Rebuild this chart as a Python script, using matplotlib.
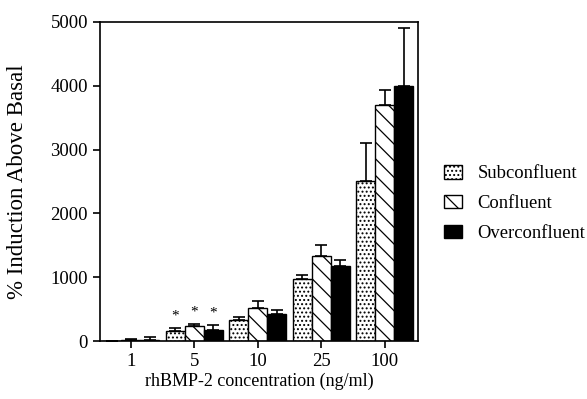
import matplotlib
matplotlib.use("Agg")
import matplotlib.pyplot as plt
import numpy as np

concentrations = ["1", "5", "10", "25", "100"]
series_names = ["Subconfluent", "Confluent", "Overconfluent"]
subconfluent = [0, 165, 330, 980, 2510]
confluent = [15, 230, 525, 1330, 3700]
overconfluent = [25, 180, 430, 1180, 4000]
sub_err = [0, 45, 50, 50, 590]
conf_err = [15, 45, 100, 170, 240]
over_err = [40, 75, 65, 90, 900]
significant = ["5"]
yticks = [0, 1000, 2000, 3000, 4000, 5000]

plt.rcParams["font.family"] = ["Liberation Serif", "DejaVu Serif"]
plt.rcParams["hatch.linewidth"] = 0.9
plt.rcParams["axes.linewidth"] = 1.2

fig = plt.figure(figsize=(5.87, 3.99), dpi=100)
ax = fig.add_axes([0.170, 0.145, 0.542, 0.800])

x = np.arange(len(concentrations))
w = 0.30
vals = [subconfluent, confluent, overconfluent]
errs = [sub_err, conf_err, over_err]
styles = [dict(facecolor="white", hatch="...."),
          dict(facecolor="white", hatch="\\\\"),
          dict(facecolor="black", hatch=None)]
handles = []
for i, (v, e, st) in enumerate(zip(vals, errs, styles)):
    pos = x + (i - 1) * w
    b = ax.bar(pos, v, width=w, edgecolor="black", linewidth=1.0, label=series_names[i], **st)
    handles.append(b)
    ax.errorbar(pos, v, yerr=[np.zeros(len(v)), e], fmt="none", ecolor="black",
                elinewidth=1.2, capsize=4.5, capthick=1.2)
    for j, c in enumerate(concentrations):
        if c in significant:
            ax.text(pos[j], v[j] + e[j] + 180, "*", ha="center", va="center", fontsize=11)

ax.set_xlim(-0.49, 4.52)
ax.set_ylim(0, 5000)
ax.set_xticks(x)
ax.set_xticklabels(concentrations)
ax.set_yticks(yticks)
ax.tick_params(axis="both", direction="out", length=5, width=1.2, labelsize=13.5)
ax.tick_params(top=False, right=False)
xl = ax.set_xlabel("rhBMP-2 concentration (ng/ml)", fontsize=13)
yl = ax.set_ylabel("% Induction Above Basal", fontsize=16.5)
ax.xaxis.set_label_coords(0.5, -0.125)
ax.yaxis.set_label_coords(-0.258, 0.5)
xl.set_va("center")
yl.set_va("center")

leg = fig.legend(handles=handles, labels=series_names, loc="center left",
                 bbox_to_anchor=(0.756, 0.490), frameon=False, fontsize=13.4,
                 handlelength=1.0, handleheight=0.75, handletextpad=0.8, labelspacing=0.68,
                 borderaxespad=0, borderpad=0)

fig.savefig("out.png", dpi=100)
